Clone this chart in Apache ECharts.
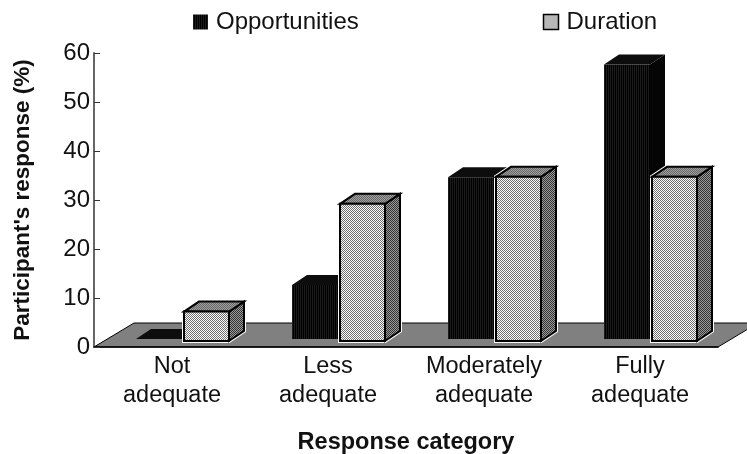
<!DOCTYPE html>
<html>
<head>
<meta charset="utf-8">
<script src="https://cdn.jsdelivr.net/npm/echarts@6/dist/echarts.min.js"></script>
<style>html,body{margin:0;padding:0;background:#fff}#chart{width:747px;height:454px}</style>
</head>
<body>
<div id="chart"></div>
<script>
const categories = ['Not\nadequate', 'Less\nadequate', 'Moderately\nadequate', 'Fully\nadequate'];
const opportunities = [0, 11, 33, 56];
const duration = [6, 28, 33.5, 33.5];
const yTicks = { min: 0, max: 60, interval: 10 };

// Small repeating fills for the halftone look of the bars
function tile(w, h, paint) {
  const c = document.createElement('canvas');
  c.width = w; c.height = h;
  paint(c.getContext('2d'));
  return { image: c, repeat: 'repeat' };
}
function checker(a, b) {
  return tile(2, 2, g => {
    g.fillStyle = a; g.fillRect(0, 0, 2, 2);
    g.fillStyle = b; g.fillRect(0, 0, 1, 1); g.fillRect(1, 1, 1, 1);
  });
}
const stripes = tile(2, 1, g => {
  g.fillStyle = '#000'; g.fillRect(0, 0, 2, 1);
  g.fillStyle = '#1c1c1c'; g.fillRect(0, 0, 1, 1);
});
const lightFill = checker('#fff', '#6e6e6e');
const sideFill = checker('#9a9a9a', '#333');
const topFill = checker('#a0a0a0', '#666');

const depthX = 15, depthY = 10;

function poly(points, style, z2) {
  return { type: 'polygon', shape: { points }, style, z2: z2 || 0, silent: true };
}

function box(api, offset, width, lift, fills, outline) {
  const idx = api.value(0);
  const top = api.coord([idx, api.value(1)]);
  const base = api.coord([idx, 0]);
  const x0 = top[0] + offset, x1 = x0 + width;
  const y0 = top[1] - lift, y1 = base[1] - lift;
  const st = f => outline
    ? { fill: f, stroke: '#000', lineWidth: 2, lineJoin: 'miter' }
    : { fill: f };
  const front = [[x0, y0], [x1, y0], [x1, y1], [x0, y1]];
  const topFace = [[x0, y0], [x0 + depthX, y0 - depthY], [x1 + depthX, y0 - depthY], [x1, y0]];
  const side = [[x1, y0], [x1 + depthX, y0 - depthY], [x1 + depthX, y1 - depthY], [x1, y1]];
  const children = [];
  if (outline) {
    const hull = [[x0, y1], [x0, y0], [x0 + depthX, y0 - depthY], [x1 + depthX, y0 - depthY], [x1 + depthX, y1 - depthY], [x1, y1]];
    children.push(poly(hull, { fill: 'none', stroke: '#fff', lineWidth: 4 }));
  }
  children.push(poly(side, st(fills.side)), poly(topFace, st(fills.top)), poly(front, st(fills.front)));
  return { type: 'group', children };
}

const option = {
  animation: false,
  backgroundColor: '#fff',
  textStyle: { fontFamily: '"Liberation Sans", Arial, sans-serif', color: '#111' },
  grid: { left: 94, right: 29, top: 53, bottom: 107, outerBoundsMode: 'none' },
  legend: {
    left: 188, top: 5, itemWidth: 15, itemHeight: 15, itemGap: 184,
    textStyle: { fontSize: 24, color: '#111', padding: [0, 0, 0, 3] },
    data: [
      { name: 'Opportunities', icon: 'rect', itemStyle: { color: stripes, borderWidth: 0 } },
      { name: 'Duration', icon: 'rect', itemStyle: { color: lightFill, borderColor: '#000', borderWidth: 1.5 } }
    ]
  },
  xAxis: {
    type: 'category', data: categories, z: 4,
    name: 'Response category', nameLocation: 'middle', nameGap: 84, nameMoveOverlap: false,
    nameTextStyle: { fontSize: 23.5, fontWeight: 'bold', color: '#111' },
    axisLine: { lineStyle: { color: '#000', width: 1.5 } },
    axisTick: { inside: true, length: 6, lineStyle: { color: '#333', width: 1 } },
    axisLabel: { fontSize: 23.5, lineHeight: 29, color: '#111', margin: 5 }
  },
  yAxis: {
    type: 'value', min: yTicks.min, max: yTicks.max, interval: yTicks.interval, z: 4,
    name: "Participant's response (%)", nameLocation: 'middle', nameGap: 60, nameMoveOverlap: false,
    nameTextStyle: { fontSize: 22.5, fontWeight: 'bold', color: '#111' },
    splitLine: { show: false },
    axisLine: { show: true, lineStyle: { color: '#666', width: 2 } },
    axisTick: { show: true, inside: true, length: 6, lineStyle: { color: '#333', width: 1 } },
    axisLabel: { fontSize: 24, color: '#111', margin: 4 }
  },
  series: [
    {
      // Grey floor plane under the bars; it runs off the right of the canvas
      type: 'custom', name: 'floor', z: 1, silent: true, clip: false,
      data: [[0]],
      encode: { x: 0 },
      renderItem(params) {
        const g = params.coordSys, yb = g.y + g.height, dx = 40, dy = 24;
        return poly([[g.x, yb], [g.x + g.width, yb], [g.x + g.width + dx, yb - dy], [g.x + dx, yb - dy]],
          { fill: '#808080', stroke: '#000', lineWidth: 1 });
      }
    },
    {
      type: 'custom', name: 'Opportunities', z: 2, clip: false,
      itemStyle: { color: '#000' },
      encode: { x: 0, y: 1 },
      data: opportunities.map((v, i) => [i, v]),
      renderItem(params, api) {
        return box(api, -36, 46, 8, { front: stripes, top: '#0d0d0d', side: '#050505' }, false);
      }
    },
    {
      type: 'custom', name: 'Duration', z: 3, clip: false,
      itemStyle: { color: '#999' },
      encode: { x: 0, y: 1 },
      data: duration.map((v, i) => [i, v]),
      renderItem(params, api) {
        return box(api, 12, 45, 6, { front: lightFill, top: topFill, side: sideFill }, true);
      }
    }
  ]
};

const chart = echarts.init(document.getElementById('chart'), null, { renderer: 'canvas' });
chart.setOption(option);
</script>
</body>
</html>
